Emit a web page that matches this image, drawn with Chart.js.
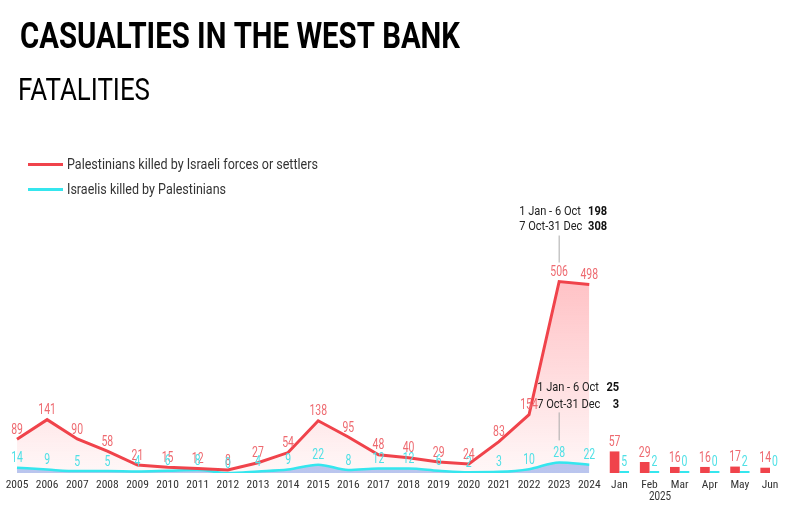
<!DOCTYPE html>
<html>
<head>
<meta charset="utf-8">
<script src="https://cdn.jsdelivr.net/npm/chart.js@4.4.1/dist/chart.umd.min.js"></script>
<style>
  html, body { margin: 0; padding: 0; background: #fff; }
  #wrap { width: 799px; height: 508px; position: relative; }
</style>
</head>
<body>
<div id="wrap"><canvas id="grafico"></canvas></div>
<script>
// dados
const anos = ["2005","2006","2007","2008","2009","2010","2011","2012","2013","2014",
  "2015","2016","2017","2018","2019","2020","2021","2022","2023","2024"];
const meses = ["Jan","Feb","Mar","Apr","May","Jun"];
const anoMeses = "2025";

const palestinos = [89,141,90,58,21,15,12,8,27,54,138,95,48,40,29,24,83,154,506,498];
const israelenses = [14,9,5,5,4,6,8,0,4,9,22,8,12,12,6,2,3,10,28,22];
const palestinosMes = [57,29,16,16,17,14];
const israelensesMes = [5,2,0,0,2,0];

// divisao 2023 (1 Jan - 6 Oct / 7 Oct-31 Dec)
const divisaoPal = [198, 308];
const divisaoIsr = [25, 3];

const titulo = "CASUALTIES IN THE WEST BANK";
const subtitulo = "FATALITIES";
const legendaPal = "Palestinians killed by Israeli forces or settlers";
const legendaIsr = "Israelis killed by Palestinians";

const VERMELHO = "#f0434b";
const CIANO = "#35e6ee";
const FONTE = "Roboto";

const vazioMeses = meses.map(() => null);
const vazioAnos = anos.map(() => null);

// texto "condensado"
function texto(ctx, s, x, y, opt) {
  const o = Object.assign({ size: 13, weight: "400", color: "#333", align: "left", sx: 0.82, width: null }, opt);
  ctx.save();
  ctx.font = `${o.weight} ${o.size}px ${FONTE}`;
  ctx.fillStyle = o.color;
  ctx.textBaseline = "middle";
  const w = ctx.measureText(s).width;
  const sx = o.width ? o.width / w : o.sx;
  let x0 = x;
  if (o.align === "center") x0 = x - w * sx / 2;
  if (o.align === "right") x0 = x - w * sx;
  ctx.translate(x0, y);
  ctx.scale(sx, 1);
  ctx.textAlign = "left";
  ctx.fillText(s, 0, 0);
  ctx.restore();
  return w * sx;
}

const pluginExtras = {
  id: "extras",
  afterDatasetsDraw(chart) {
    const ctx = chart.ctx;
    const x = chart.scales.x, y = chart.scales.y;

    // rotulos de valores
    const cores = ["#ee6a70", "#4fe0e6", "#ee6a70", "#4fe0e6"];
    chart.data.datasets.forEach((ds, i) => {
      const meta = chart.getDatasetMeta(i);
      meta.data.forEach((el, j) => {
        const v = ds.data[j];
        if (v === null || v === undefined) return;
        texto(ctx, String(v), el.x, el.y - 9, { size: 14.5, color: cores[i], align: "center", sx: 0.72 });
      });
    });

    // "2025" sob os meses
    const xf = x.getPixelForValue(anos.length + 1);
    const xm = x.getPixelForValue(anos.length + 2);
    texto(ctx, anoMeses, xf + (xm - xf) * 0.35, 497, { size: 12, color: "#333", align: "center", sx: 0.82 });

    // anotacoes 2023
    const i23 = anos.indexOf("2023");
    const x23 = x.getPixelForValue(i23);
    const yPal = y.getPixelForValue(palestinos[i23]);
    const yIsr = y.getPixelForValue(israelenses[i23]);

    ctx.save();
    ctx.strokeStyle = "#aaa";
    ctx.lineWidth = 1;
    ctx.beginPath();
    ctx.moveTo(x23, yPal - 46); ctx.lineTo(x23, yPal - 19);
    ctx.moveTo(x23, yIsr - 50); ctx.lineTo(x23, yIsr - 22);
    ctx.stroke();
    ctx.restore();

    const linhas = ["1 Jan - 6 Oct", "7 Oct-31 Dec"];
    [0, 1].forEach(k => {
      texto(ctx, linhas[k], x23 - 40, yPal - 70 + k * 15, { size: 13.5, color: "#222" });
      texto(ctx, String(divisaoPal[k]), x23 + 48, yPal - 70 + k * 15, { size: 13.5, weight: "700", color: "#111", align: "right" });
      texto(ctx, linhas[k], x23 - 22, yIsr - 75 + k * 17, { size: 13.5, color: "#222" });
      texto(ctx, String(divisaoIsr[k]), x23 + 60, yIsr - 75 + k * 17, { size: 13.5, weight: "700", color: "#111", align: "right" });
    });
  },
  afterDraw(chart) {
    const ctx = chart.ctx;
    texto(ctx, titulo, 20, 39, { size: 36, weight: "700", color: "#000", width: 440 });
    texto(ctx, subtitulo, 18, 92, { size: 31, weight: "400", color: "#000", width: 132 });

    ctx.save();
    ctx.lineWidth = 3;
    ctx.strokeStyle = VERMELHO;
    ctx.beginPath(); ctx.moveTo(28, 164.5); ctx.lineTo(63, 164.5); ctx.stroke();
    ctx.strokeStyle = CIANO;
    ctx.beginPath(); ctx.moveTo(28, 189.5); ctx.lineTo(63, 189.5); ctx.stroke();
    ctx.restore();
    texto(ctx, legendaPal, 67, 165, { size: 14, color: "#333", width: 251 });
    texto(ctx, legendaIsr, 67, 190, { size: 14, color: "#333", width: 159 });
  }
};

const ctxGrafico = document.getElementById("grafico").getContext("2d");

new Chart(ctxGrafico, {
  data: {
    labels: anos.concat(meses),
    datasets: [
      {
        type: "line",
        label: legendaPal,
        data: palestinos.concat(vazioMeses),
        borderColor: VERMELHO,
        borderWidth: 3,
        tension: 0,
        pointRadius: 0,
        fill: "origin",
        backgroundColor: (context) => {
          const chart = context.chart;
          const { ctx, chartArea, scales } = chart;
          if (!chartArea) return "rgba(255,128,135,0.2)";
          const g = ctx.createLinearGradient(0, scales.y.getPixelForValue(506), 0, scales.y.getPixelForValue(0));
          g.addColorStop(0, "rgba(255,128,135,0.48)");
          g.addColorStop(1, "rgba(255,128,135,0.06)");
          return g;
        }
      },
      {
        type: "line",
        label: legendaIsr,
        data: israelenses.concat(vazioMeses),
        borderColor: CIANO,
        borderWidth: 2.5,
        cubicInterpolationMode: "monotone",
        pointRadius: 0,
        fill: "origin",
        backgroundColor: "rgba(110,150,235,0.5)"
      },
      {
        type: "bar",
        data: vazioAnos.concat(palestinosMes),
        backgroundColor: VERMELHO,
        categoryPercentage: 0.64,
        barPercentage: 1.0
      },
      {
        type: "bar",
        data: vazioAnos.concat(israelensesMes),
        backgroundColor: CIANO,
        categoryPercentage: 0.64,
        barPercentage: 1.0,
        minBarLength: 2
      }
    ]
  },
  options: {
    responsive: true,
    maintainAspectRatio: false,
    animation: false,
    layout: { padding: { left: 17, right: 29, top: 0, bottom: 0 } },
    plugins: {
      legend: { display: false },
      tooltip: { enabled: false },
      filler: { drawTime: "beforeDatasetsDraw" }
    },
    scales: {
      x: {
        type: "category",
        offset: false,
        grid: { display: false, drawTicks: false },
        border: { display: false },
        ticks: {
          autoSkip: false,
          maxRotation: 0,
          padding: 5,
          color: "#333",
          font: { family: "'Roboto Condensed', 'Liberation Sans Narrow', 'DejaVu Sans Condensed', Roboto", size: 11.5 }
        },
        afterFit: (scale) => { scale.height = 35; }
      },
      y: {
        display: false,
        min: 0,
        max: 1250
      }
    }
  },
  plugins: [pluginExtras]
});
</script>
</body>
</html>
